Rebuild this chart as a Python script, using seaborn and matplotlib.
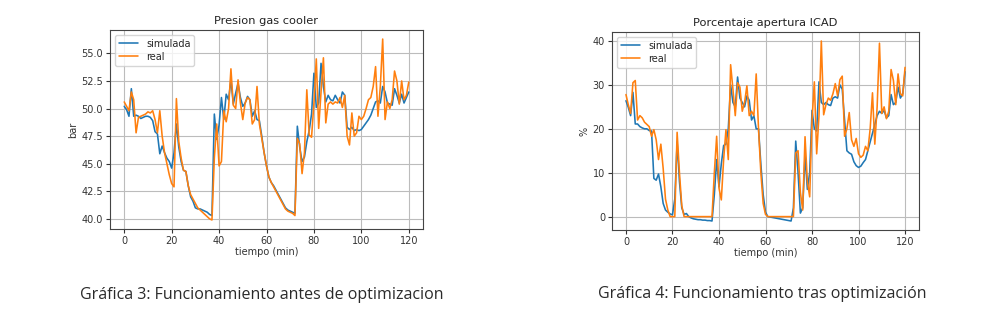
import numpy as np
import pandas as pd
import matplotlib
matplotlib.use("Agg")
import matplotlib.pyplot as plt
import seaborn as sns

# Time axis (minutes)
tiempo = list(range(121))

# Gas cooler pressure (bar)
presion_simulada = [
    50.2, 49.9, 49.3, 51.8, 49.3, 49.4, 49.3, 49.1, 49.2, 49.3,
    49.3, 49.2, 48.9, 47.9, 47.7, 45.9, 46.6, 46.0, 45.5, 45.2,
    44.6, 46.0, 48.6, 46.5, 45.2, 44.4, 44.3, 43.0, 42.0, 41.6,
    41.0, 40.9, 40.9, 40.8, 40.7, 40.6, 40.4, 40.3, 49.5, 47.2,
    48.5, 51.0, 49.0, 51.3, 50.8, 52.6, 50.4, 51.4, 52.3, 51.0,
    50.2, 50.5, 51.1, 50.8, 49.3, 49.8, 49.0, 48.9, 47.5, 46.0,
    44.8, 43.8, 43.3, 43.0, 42.6, 42.2, 41.8, 41.4, 41.0, 40.8,
    40.7, 40.6, 40.5, 48.4, 46.5, 45.2, 45.6, 47.0, 48.0, 49.5,
    53.2, 50.1, 50.5, 54.1, 52.0, 50.6, 51.2, 50.8, 50.7, 51.2,
    50.8, 50.5, 51.5, 51.2, 48.3, 48.1, 48.3, 48.0, 48.1, 48.0,
    48.1, 48.4, 48.7, 49.0, 49.4, 50.0, 50.6, 50.7, 50.5, 52.0,
    51.5, 50.5, 50.4, 50.3, 51.8, 51.2, 50.5, 51.3, 50.5, 51.0,
    51.5,
]
presion_real = [
    50.6, 50.2, 49.8, 51.5, 50.8, 47.8, 49.2, 49.3, 49.4, 49.5,
    49.7, 49.6, 49.8, 49.0, 47.8, 49.8, 47.5, 46.0, 45.0, 44.0,
    43.2, 42.9, 50.9, 47.0, 45.5, 44.4, 44.3, 43.0, 42.2, 41.8,
    41.4, 41.0, 40.8, 40.6, 40.4, 40.2, 40.0, 39.9, 45.5, 48.6,
    44.8, 45.2, 49.8, 48.8, 50.0, 53.6, 50.3, 50.0, 52.6, 50.5,
    49.0, 50.5, 51.0, 50.8, 48.6, 49.0, 52.0, 48.6, 47.3, 46.0,
    44.8, 43.8, 43.3, 42.9, 42.5, 42.1, 41.7, 41.3, 40.9, 40.7,
    40.6, 40.5, 40.3, 47.3, 46.8, 44.1, 46.0, 51.7, 47.6, 47.4,
    50.5, 54.5, 48.2, 51.5, 54.6, 48.7, 50.4, 50.6, 50.4, 50.6,
    50.5, 51.0, 50.1, 51.2, 47.5, 46.7, 49.6, 47.5, 47.8, 49.3,
    49.0, 49.3, 50.0, 50.8, 51.0, 52.0, 53.8, 49.3, 52.0, 56.3,
    49.0, 50.6, 50.0, 50.8, 53.4, 52.5, 50.4, 52.5, 50.8, 51.2,
    52.4,
]

# ICAD valve opening (%)
icad_simulada = [
    26.4, 24.9, 23.0, 28.3, 21.1, 21.1, 20.5, 20.2, 20.0, 20.0,
    19.6, 19.5, 8.7, 8.3, 9.7, 6.8, 3.0, 1.5, 1.0, 0.6,
    0.4, 4.0, 17.0, 8.0, 2.0, 0.5, 0.7, 0.0, -0.3, -0.5,
    -0.6, -0.7, -0.7, -0.8, -0.8, -0.9, -0.9, -1.0, 5.0, 13.0,
    6.8, 12.0, 16.2, 16.5, 20.0, 30.0, 26.0, 25.0, 31.8, 27.0,
    26.0, 25.0, 27.5, 26.5, 22.0, 23.0, 20.0, 20.0, 12.0, 5.0,
    1.0, 0.0, -0.1, -0.2, -0.3, -0.4, -0.5, -0.6, -0.7, -0.8,
    -0.9, -1.0, 2.0, 17.2, 10.0, 0.8, 2.0, 14.0, 6.2, 10.0,
    24.2, 20.0, 19.5, 30.7, 26.0, 25.5, 26.0, 25.5, 25.3, 27.0,
    27.3, 27.0, 30.0, 29.0, 22.0, 15.0, 14.5, 14.2, 12.5, 11.6,
    11.2, 11.5, 12.3, 13.0, 15.0, 17.0, 19.0, 21.0, 23.0, 24.0,
    23.5, 24.2, 22.5, 23.0, 27.8, 25.5, 26.0, 29.5, 27.0, 28.0,
    33.0,
]
icad_real = [
    27.8, 25.5, 23.5, 30.5, 31.0, 22.0, 23.0, 22.5, 21.5, 21.0,
    20.5, 18.3, 19.8, 17.5, 13.0, 16.5, 11.0, 4.0, 1.5, 0.0,
    0.0, 0.0, 19.2, 10.0, 2.5, 0.0, 0.0, 0.0, 0.0, 0.0,
    0.0, 0.0, 0.0, 0.0, 0.0, 0.0, 0.0, 0.0, 10.0, 18.3,
    6.5, 3.8, 13.0, 19.8, 13.0, 34.6, 29.0, 23.0, 30.5, 29.5,
    24.0, 26.0, 29.8, 23.0, 24.0, 23.0, 32.5, 20.0, 10.0, 3.0,
    0.5, 0.0, 0.0, 0.0, 0.0, 0.0, 0.0, 0.0, 0.0, 0.0,
    0.0, 0.0, 0.0, 14.5, 15.0, 5.5, 1.5, 18.2, 8.0, 4.5,
    22.0, 30.7, 14.3, 23.0, 40.0, 23.2, 25.5, 27.0, 26.5, 28.0,
    30.3, 27.5, 31.2, 32.0, 18.3, 20.0, 23.7, 17.5, 16.0, 17.8,
    14.3, 13.5, 14.0, 16.0, 15.0, 20.0, 28.2, 16.5, 25.0, 39.5,
    23.5, 25.0, 22.3, 24.0, 33.5, 31.0, 25.5, 32.5, 28.0, 27.5,
    34.0,
]

series_names = ["simulada", "real"]
titles = ["Presion gas cooler", "Porcentaje apertura ICAD"]
ylabels = ["bar", "%"]
xlabel = "tiempo (min)"
captions = ["Gráfica 3: Funcionamiento antes de optimizacion",
            "Gráfica 4: Funcionamiento tras optimización"]


def long_frame(sim, real):
    return pd.DataFrame({
        "tiempo": tiempo * 2,
        "valor": sim + real,
        "serie": ["simulada"] * len(sim) + ["real"] * len(real),
    })


sns.set_style("white")
plt.rcParams.update({
    "font.family": ["DejaVu Sans"],
    "axes.edgecolor": "#444444",
    "axes.linewidth": 0.8,
    "grid.color": "#bcbcbc",
    "grid.linewidth": 0.8,
    "xtick.color": "#333333",
    "ytick.color": "#333333",
    "xtick.bottom": True,
    "ytick.left": True,
    "xtick.major.size": 3,
    "ytick.major.size": 3,
})

palette = {"simulada": "#1f77b4", "real": "#ff7f0e"}

fig = plt.figure(figsize=(10, 3.35), dpi=100)
ax1 = fig.add_axes([0.110, 1 - 229 / 335, 0.313, 199 / 335])
ax2 = fig.add_axes([0.612, 1 - 230 / 335, 0.307, 198 / 335])

frames = [long_frame(presion_simulada, presion_real),
          long_frame(icad_simulada, icad_real)]

for ax, df, title, ylab in zip([ax1, ax2], frames, titles, ylabels):
    sns.lineplot(data=df, x="tiempo", y="valor", hue="serie",
                 hue_order=series_names, palette=palette,
                 linewidth=1.15, ax=ax)
    ax.grid(True)
    ax.set_axisbelow(True)
    ax.set_title(title, fontsize=8.2, color="#222222", pad=4)
    ax.set_xlabel(xlabel, fontsize=7, color="#333333", labelpad=1)
    ax.set_ylabel(ylab, fontsize=7, color="#333333", labelpad=2)
    ax.tick_params(labelsize=7, pad=2)
    ax.set_xticks([0, 20, 40, 60, 80, 100, 120])
    ax.legend(loc="upper left", fontsize=7, framealpha=0.8,
              handlelength=2.0, borderpad=0.4, labelspacing=0.3)
    for sp in ax.spines.values():
        sp.set_visible(True)

ax1.set_yticks([40.0, 42.5, 45.0, 47.5, 50.0, 52.5, 55.0])
ax1.set_yticklabels([f"{v:.1f}" for v in [40.0, 42.5, 45.0, 47.5, 50.0, 52.5, 55.0]])
ax2.set_yticks([0, 10, 20, 30, 40])

fig.text(0.262, 1 - 295 / 335, captions[0], ha="center", va="center",
         fontsize=11.5, family=["Open Sans", "DejaVu Sans"], color="#2a2a2a")
fig.text(0.762, 1 - 294 / 335, captions[1], ha="center", va="center",
         fontsize=11.5, family=["Open Sans", "DejaVu Sans"], color="#2a2a2a")

fig.savefig("out.png", dpi=100, facecolor="white")
